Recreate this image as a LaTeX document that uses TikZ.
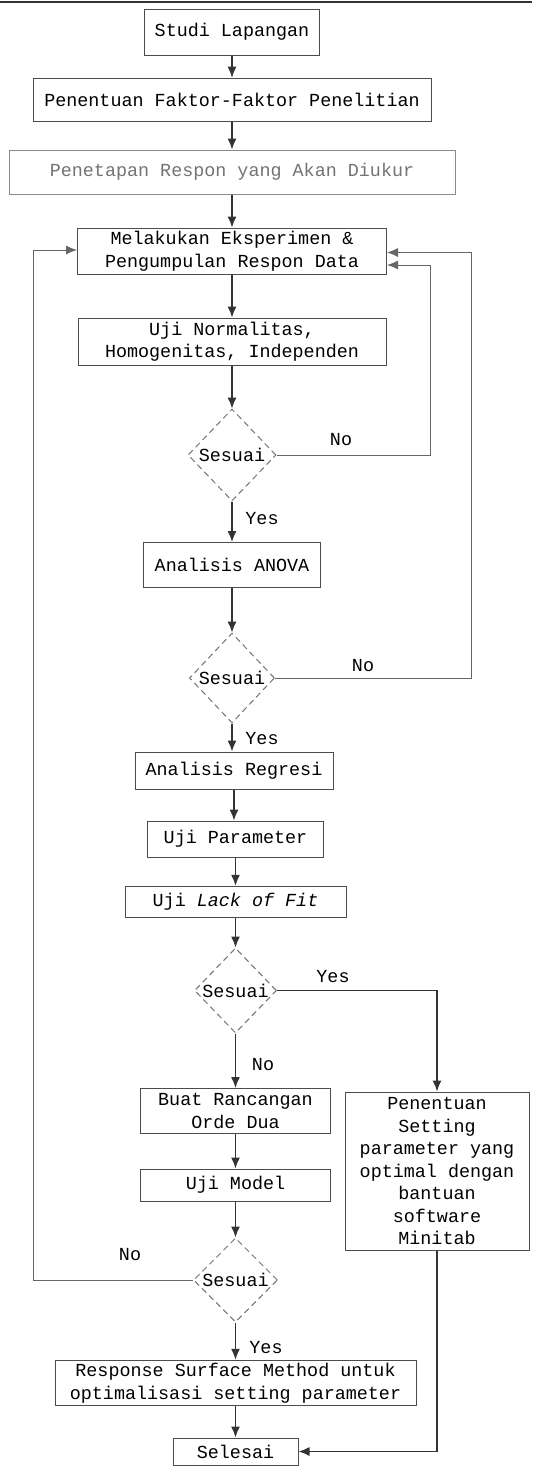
\documentclass[tikz,border=0pt]{standalone}
\usepackage{fontspec}
\newfontfamily\cour{Liberation Mono}
\usetikzlibrary{shapes.geometric,arrows.meta}

\begin{document}
\begin{tikzpicture}[x=0.5pt,y=-0.5pt,
  box/.style={draw=black!70,line width=0.5pt,inner sep=0pt,align=center,
    font=\cour\fontsize{9.2}{11.25}\selectfont,text=black},
  decision/.style={diamond,draw=black!55,densely dashed,line width=0.5pt,inner sep=0pt,
    font=\cour\fontsize{9.2}{11.25}\selectfont,text=black},
  flow/.style={draw=black!80,line width=0.65pt,-{Latex[length=5.5pt,width=4.5pt]}},
  back/.style={draw=black!60,line width=0.45pt,-{Latex[length=5.5pt,width=4.5pt]}},
  lbl/.style={font=\cour\fontsize{9.2}{11.25}\selectfont,text=black}]

\useasboundingbox (0,0) rectangle (532,1472);
\draw[line width=1pt,black!80] (0,2) -- (532,2);

% main column
\node[box,minimum width=87.5pt,minimum height=23pt] (studi) at (232,32) {Studi Lapangan};
\node[box,minimum width=199pt,minimum height=21.8pt] (faktor) at (232,100) {Penentuan Faktor-Faktor Penelitian};
\node[box,minimum width=223pt,minimum height=22pt,draw=black!45,text=black!55] (respon) at (232,172) {Penetapan Respon yang Akan Diukur};
\node[box,minimum width=154.5pt,minimum height=23pt] (eksperimen) at (232,251) {Melakukan Eksperimen \&\\Pengumpulan Respon Data};
\node[box,minimum width=154pt,minimum height=23.5pt] (uji1) at (232,341.5) {Uji Normalitas,\\Homogenitas, Independen};
\node[decision,minimum width=44pt,minimum height=46pt] (d1) at (232,455) {Sesuai};
\node[box,minimum width=88.5pt,minimum height=22.5pt] (anova) at (232,565) {Analisis ANOVA};
\node[decision,minimum width=42.5pt,minimum height=45pt] (d2) at (232,678) {Sesuai};
\node[box,minimum width=99pt,minimum height=18.5pt] (regresi) at (234,770.5) {Analisis Regresi};
\node[box,minimum width=88pt,minimum height=18pt] (param) at (235.5,839) {Uji Parameter};
\node[box,minimum width=110.5pt,minimum height=15.75pt] (lof) at (235.5,902) {Uji \textit{Lack of Fit}};
\node[decision,minimum width=41pt,minimum height=42.5pt] (d3) at (235.5,990.5) {Sesuai};
\node[box,minimum width=95pt,minimum height=22.5pt] (rancang) at (235.5,1111) {Buat Rancangan\\Orde Dua};
\node[box,minimum width=95pt,minimum height=16pt] (model) at (235.5,1185) {Uji Model};
\node[decision,minimum width=42pt,minimum height=42pt] (d4) at (235.5,1280) {Sesuai};
\node[box,minimum width=180.5pt,minimum height=22.75pt] (rsm) at (235.5,1383) {Response Surface Method untuk\\optimalisasi setting parameter};
\node[box,minimum width=62.5pt,minimum height=13.5pt] (selesai) at (235.5,1451.5) {Selesai};
% side branch
\node[box,minimum width=92pt,minimum height=79pt] (setting) at (437,1171) {Penentuan\\Setting\\parameter yang\\optimal dengan\\bantuan\\software\\Minitab};

% main arrows
\draw[flow] (studi.south) -- (studi.south |- faktor.north);
\draw[flow] (faktor.south) -- (faktor.south |- respon.north);
\draw[flow] (respon.south) -- (respon.south |- eksperimen.north);
\draw[flow] (eksperimen.south) -- (eksperimen.south |- uji1.north);
\draw[flow] (uji1.south) -- (d1.north);
\draw[flow] (d1.south) -- (anova.north);
\draw[flow] (anova.south) -- (d2.north);
\draw[flow] (d2.south) -- (d2.south |- regresi.north);
\draw[flow] (regresi.south) -- (regresi.south |- param.north);
\draw[flow] (param.south) -- (lof.north);
\draw[flow] (lof.south) -- (d3.north);
\draw[flow] (d3.south) -- (rancang.north);
\draw[flow] (rancang.south) -- (model.north);
\draw[flow] (model.south) -- (d4.north);
\draw[flow] (d4.south) -- (rsm.north);
\draw[flow] (rsm.south) -- (selesai.north);

% loops back
\coordinate (r1) at (430,265);
\coordinate (r2) at (471,252.5);
\coordinate (l1) at (33,250);
\draw[back] (d1.east) -| (r1) -- (eksperimen.east |- r1);
\draw[back] (d2.east) -| (r2) -- (eksperimen.east |- r2);
\draw[back] (d4.west) -| (l1) -- (eksperimen.west |- l1);
\draw[flow] (d3.east) -| (setting.north);
\draw[flow] (setting.south) |- (selesai.east);

% labels
\node[lbl] (no1) at (341,440) {No};
\node[lbl] (yes1) at (262,519) {Yes};
\node[lbl] (no2) at (363,666) {No};
\node[lbl] (yes2) at (262,739) {Yes};
\node[lbl] (yes3) at (333,977) {Yes};
\node[lbl] (no3) at (263,1065) {No};
\node[lbl] (no4) at (130,1255) {No};
\node[lbl] (yes4) at (266,1348) {Yes};
\end{tikzpicture}
\end{document}
